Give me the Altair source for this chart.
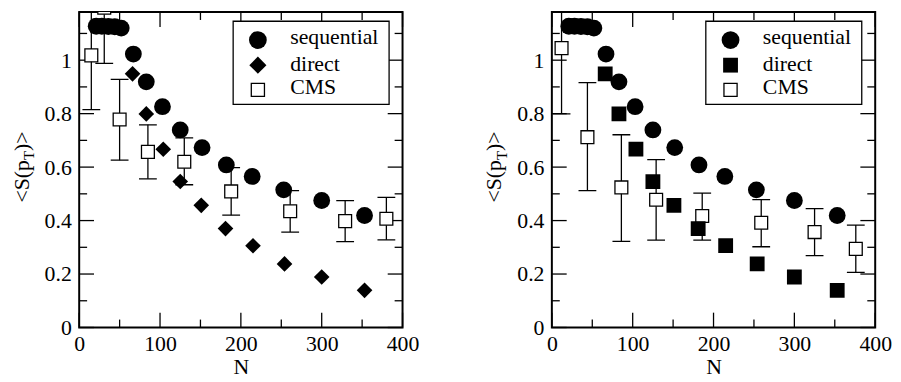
import altair as alt
import pandas as pd

# ---------------- data ----------------
seq_N = [21, 28, 36, 44, 52, 67, 83, 103, 125, 152, 182, 214, 253, 300, 353]
seq_S = [1.127, 1.127, 1.126, 1.125, 1.12, 1.023, 0.919, 0.826, 0.739, 0.673,
         0.608, 0.565, 0.515, 0.475, 0.419]

dir_N = [66, 83, 104, 125, 151, 181, 215, 254, 300, 353]
dir_S = [0.949, 0.799, 0.667, 0.546, 0.457, 0.370, 0.306, 0.238, 0.189, 0.139]

cmsL_N = [15, 31, 50, 85, 130, 188, 261, 329, 380]
cmsL_S = [1.018, 1.196, 0.778, 0.657, 0.620, 0.509, 0.435, 0.398, 0.407]
cmsL_lo = [0.815, 0.988, 0.626, 0.556, 0.534, 0.420, 0.357, 0.321, 0.328]
cmsL_hi = [1.30, 1.40, 0.928, 0.758, 0.709, 0.598, 0.512, 0.475, 0.487]

cmsR_N = [12, 44, 86, 129, 186, 259, 325, 376]
cmsR_S = [1.045, 0.712, 0.524, 0.478, 0.417, 0.392, 0.357, 0.294]
cmsR_lo = [0.799, 0.512, 0.322, 0.327, 0.327, 0.302, 0.269, 0.206]
cmsR_hi = [1.30, 0.916, 0.721, 0.628, 0.503, 0.478, 0.445, 0.383]

x_major = [0, 100, 200, 300, 400]
x_minor = [50, 150, 250, 350]
y_major = [0, 0.2, 0.4, 0.6, 0.8, 1.0]
y_minor = [0.1, 0.3, 0.5, 0.7, 0.9, 1.1]
legend_labels = ["sequential", "direct", "CMS"]

# ---------------- styling ----------------
FONT = "Liberation Serif"
FS = 22
W, H = 327, 319
MAJ, MIN = 15, 8

xs = alt.Scale(domain=[0, 400], nice=False)
ys = alt.Scale(domain=[0, 1.18], nice=False)
xaxis = alt.Axis(values=x_major, title="N", ticks=False, domain=False, grid=False,
                 labelFlush=False, labelOverlap=False, labelPadding=6,
                 titlePadding=3, format="d")
yaxis = alt.Axis(values=y_major, title=None, ticks=False, domain=False, grid=False,
                 labelFlush=False, labelOverlap=False, labelPadding=8, format="~g")


def X(f):
    return alt.X(f, type="quantitative", scale=xs, axis=xaxis)


def Y(f):
    return alt.Y(f, type="quantitative", scale=ys, axis=yaxis)


def panel(cms_N, cms_S, cms_lo, cms_hi, direct_shape, direct_size, legend_direct_size):
    seq = pd.DataFrame({"N": seq_N, "S": seq_S})
    dr = pd.DataFrame({"N": dir_N, "S": dir_S})
    cms = pd.DataFrame({"N": cms_N, "S": cms_S, "lo": cms_lo, "hi": cms_hi})
    xmaj = pd.DataFrame({"v": x_major})
    xmin = pd.DataFrame({"v": x_minor})
    ymaj = pd.DataFrame({"v": y_major})
    ymin = pd.DataFrame({"v": y_minor})

    layers = []
    # inward ticks on all four sides
    for d, L in ((xmaj, MAJ), (xmin, MIN)):
        layers.append(alt.Chart(d).mark_rule(color="black", strokeWidth=1.3).encode(
            x=X("v"), y=alt.value(H), y2=alt.value(H - L)))
        layers.append(alt.Chart(d).mark_rule(color="black", strokeWidth=1.3).encode(
            x=X("v"), y=alt.value(0), y2=alt.value(L)))
    for d, L in ((ymaj, MAJ), (ymin, MIN)):
        layers.append(alt.Chart(d).mark_rule(color="black", strokeWidth=1.3).encode(
            y=Y("v"), x=alt.value(0), x2=alt.value(L)))
        layers.append(alt.Chart(d).mark_rule(color="black", strokeWidth=1.3).encode(
            y=Y("v"), x=alt.value(W), x2=alt.value(W - L)))

    # CMS error bars + squares
    layers.append(alt.Chart(cms).mark_rule(color="black", strokeWidth=1.3, clip=True).encode(
        x=X("N"), y=Y("lo"), y2="hi"))
    for f in ("lo", "hi"):
        layers.append(alt.Chart(cms).mark_tick(orient="horizontal", size=18, thickness=1.3,
                                               color="black", opacity=1, clip=True).encode(
            x=X("N"), y=Y(f)))
    layers.append(alt.Chart(cms).mark_point(shape="square", size=169, filled=False, fill="white",
                                            stroke="black", strokeWidth=1.3, opacity=1,
                                            clip=True).encode(x=X("N"), y=Y("S")))
    # direct
    layers.append(alt.Chart(dr).mark_point(shape=direct_shape, size=direct_size, filled=True,
                                           color="black", opacity=1, clip=True).encode(
        x=X("N"), y=Y("S")))
    # sequential
    layers.append(alt.Chart(seq).mark_point(shape="circle", size=289, filled=True,
                                            color="black", opacity=1, clip=True).encode(
        x=X("N"), y=Y("S")))

    # legend box
    one = pd.DataFrame({"a": [0]})
    layers.append(alt.Chart(one).mark_rect(fill="white", stroke="black", strokeWidth=1.3).encode(
        x=alt.value(155.7), x2=alt.value(313.4), y=alt.value(9.3), y2=alt.value(93.3)))
    sym_y = [28.3, 53.7, 78.7]
    txt_y = [32, 59.3, 83.3]
    sym_spec = [dict(shape="circle", size=324, filled=True, color="black"),
                dict(shape=direct_shape, size=legend_direct_size, filled=True, color="black"),
                dict(shape="square", size=177, filled=False, fill="white", stroke="black",
                     strokeWidth=1.3)]
    for lab, sy, ty, spec in zip(legend_labels, sym_y, txt_y, sym_spec):
        d = pd.DataFrame({"t": [lab]})
        layers.append(alt.Chart(d).mark_point(opacity=1, **spec).encode(
            x=alt.value(180.7), y=alt.value(sy)))
        layers.append(alt.Chart(d).mark_text(align="left", baseline="alphabetic", font=FONT,
                                             fontSize=FS, color="black").encode(
            x=alt.value(213.4), y=alt.value(ty), text="t:N"))

    # y-axis title  <S(p_T)>  built from pieces (subscript T)
    pieces = [("<S(p", FS, -58, 192.7), ("T", 15, -50.3, 149.7), (")>", FS, -58, 140.5)]
    for txt, fs, px, py in pieces:
        d = pd.DataFrame({"t": [txt]})
        layers.append(alt.Chart(d).mark_text(angle=270, align="left", baseline="middle",
                                             font=FONT, fontSize=fs, color="black").encode(
            x=alt.value(px), y=alt.value(py), text="t:N"))

    return alt.layer(*layers).properties(width=W, height=H)


left = panel(cmsL_N, cmsL_S, cmsL_lo, cmsL_hi, "diamond", 250, 300)
right = panel(cmsR_N, cmsR_S, cmsR_lo, cmsR_hi, "square", 225, 225)

chart = alt.hconcat(left, right, spacing=151, bounds="flush",
                    padding={"left": 2, "top": 0, "right": 0, "bottom": 0}).configure_view(
    stroke="black", strokeWidth=2
).configure_axis(
    labelFont=FONT, labelFontSize=FS, labelColor="black",
    titleFont=FONT, titleFontSize=FS, titleColor="black", titleFontWeight="normal"
)

chart.save("out.html", embed_options={"renderer": "svg", "actions": False})
